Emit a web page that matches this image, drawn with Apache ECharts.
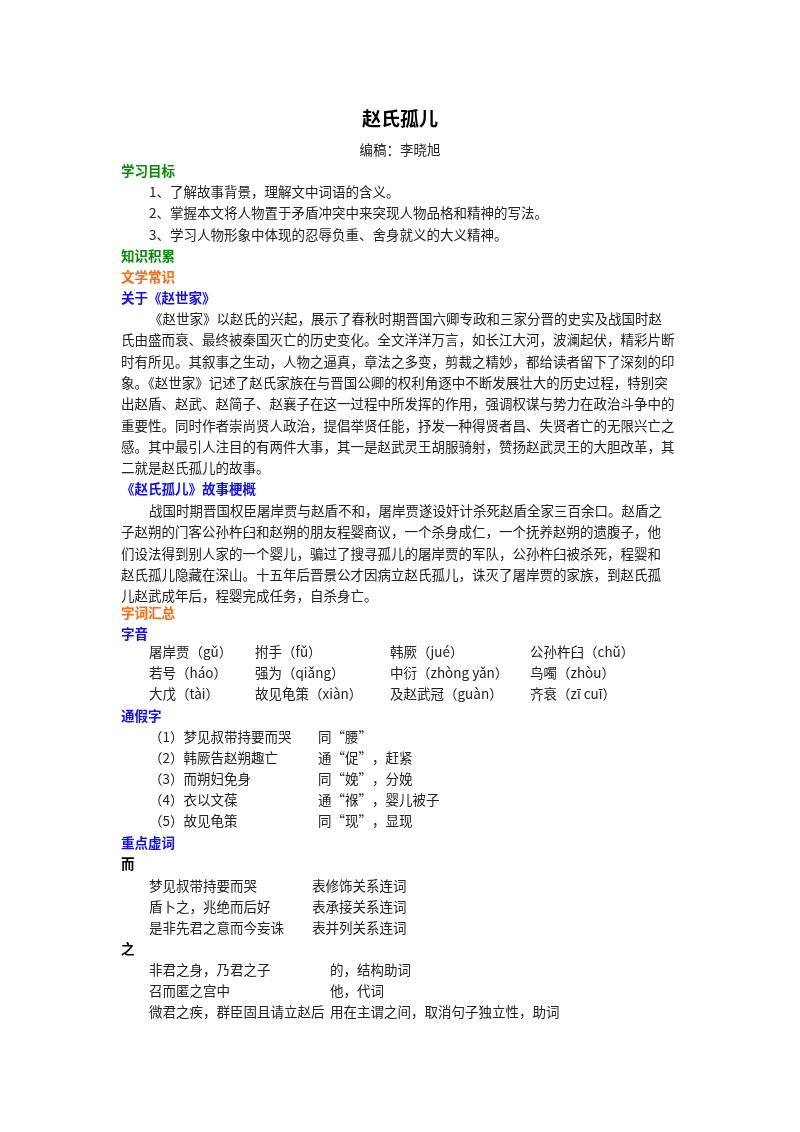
<!DOCTYPE html>
<html>
<head>
<meta charset="utf-8">
<script src="https://cdn.jsdelivr.net/npm/echarts@6/dist/echarts.min.js"></script>
<style>html,body{margin:0;padding:0;background:#fff}#main{width:800px;height:1132px}</style>
</head>
<body>
<div id="main"></div>
<script>
var title = '赵氏孤儿';
var author = '编稿：李晓旭';
var goals = ['1、了解故事背景，理解文中词语的含义。', '2、掌握本文将人物置于矛盾冲突中来突现人物品格和精神的写法。', '3、学习人物形象中体现的忍辱负重、舍身就义的大义精神。'];
var para1 = [
  '《赵世家》以赵氏的兴起，展示了春秋时期晋国六卿专政和三家分晋的史实及战国时赵',
  '氏由盛而衰、最终被秦国灭亡的历史变化。全文洋洋万言，如长江大河，波澜起伏，精彩片断',
  '时有所见。其叙事之生动，人物之逼真，章法之多变，剪裁之精妙，都给读者留下了深刻的印',
  '象。《赵世家》记述了赵氏家族在与晋国公卿的权利角逐中不断发展壮大的历史过程，特别突',
  '出赵盾、赵武、赵简子、赵襄子在这一过程中所发挥的作用，强调权谋与势力在政治斗争中的',
  '重要性。同时作者崇尚贤人政治，提倡举贤任能，抒发一种得贤者昌、失贤者亡的无限兴亡之',
  '感。其中最引人注目的有两件大事，其一是赵武灵王胡服骑射，赞扬赵武灵王的大胆改革，其',
  '二就是赵氏孤儿的故事。'
];
var para2 = [
  '战国时期晋国权臣屠岸贾与赵盾不和，屠岸贾遂设奸计杀死赵盾全家三百余口。赵盾之',
  '子赵朔的门客公孙杵臼和赵朔的朋友程婴商议，一个杀身成仁，一个抚养赵朔的遗腹子，他',
  '们设法得到别人家的一个婴儿，骗过了搜寻孤儿的屠岸贾的军队，公孙杵臼被杀死，程婴和',
  '赵氏孤儿隐藏在深山。十五年后晋景公才因病立赵氏孤儿，诛灭了屠岸贾的家族，到赵氏孤',
  '儿赵武成年后，程婴完成任务，自杀身亡。'
];
var sounds = [
  ['屠岸贾（gǔ）', '拊手（fǔ）', '韩厥（jué）', '公孙杵臼（chǔ）'],
  ['若号（háo）', '强为（qiǎng）', '中衍（zhòng yǎn）', '鸟噣（zhòu）'],
  ['大戊（tài）', '故见龟策（xiàn）', '及赵武冠（guàn）', '齐衰（zī cuī）']
];
var jiaJie = [
  ['（1）梦见叔带持要而哭', '同“腰”'],
  ['（2）韩厥告赵朔趣亡', '通“促”，赶紧'],
  ['（3）而朔妇免身', '同“娩”，分娩'],
  ['（4）衣以文葆', '通“褓”，婴儿被子'],
  ['（5）故见龟策', '同“现”，显现']
];
var er = [
  ['梦见叔带持要而哭', '表修饰关系连词'],
  ['盾卜之，兆绝而后好', '表承接关系连词'],
  ['是非先君之意而今妄诛', '表并列关系连词']
];
var zhi = [
  ['非君之身，乃君之子', '的，结构助词'],
  ['召而匿之宫中', '他，代词'],
  ['微君之疾，群臣固且请立赵后', '用在主谓之间，取消句子独立性，助词']
];

var FONT = '"Noto Sans CJK SC", sans-serif';
var els = [];
function t(x, y, s, opt) {
  opt = opt || {};
  els.push({
    type: 'text', x: x, y: y,
    style: {
      text: s, fill: opt.color || '#222', fontSize: opt.size || 13.5,
      fontWeight: opt.bold ? 'bold' : 'normal', fontFamily: FONT,
      align: opt.align || 'left', verticalAlign: 'middle'
    }
  });
}
var GREEN = '#0a8a0a', ORANGE = '#ff6a10', BLUE = '#1010ff';
t(400, 119, title, {size: 19, bold: true, align: 'center', color: '#000'});
t(400, 150, author, {align: 'center'});
t(121, 171, '学习目标', {bold: true, color: GREEN});
goals.forEach(function (g, i) { t(149, 192 + i * 21.3, g); });
t(121, 256, '知识积累', {bold: true, color: GREEN});
t(121, 277, '文学常识', {bold: true, color: ORANGE});
t(121, 298, '关于《赵世家》', {bold: true, color: BLUE});
para1.forEach(function (l, i) { t(i === 0 ? 149 : 121, 319 + i * 21.3, l); });
t(121, 489, '《赵氏孤儿》故事梗概', {bold: true, color: BLUE});
para2.forEach(function (l, i) { t(i === 0 ? 149 : 121, 511 + i * 21.3, l); });
t(121, 613, '字词汇总', {bold: true, color: ORANGE});
t(121, 634, '字音', {bold: true, color: BLUE});
var sx = [149, 255, 390, 530];
sounds.forEach(function (row, i) {
  row.forEach(function (c, j) { t(sx[j], 652 + i * 21, c); });
});
t(121, 716, '通假字', {bold: true, color: BLUE});
jiaJie.forEach(function (r, i) {
  t(149, 737 + i * 21, r[0]);
  t(318, 737 + i * 21, r[1]);
});
t(121, 843, '重点虚词', {bold: true, color: BLUE});
t(121, 864, '而', {bold: true, color: '#000'});
er.forEach(function (r, i) {
  t(149, 886 + i * 21, r[0]);
  t(312, 886 + i * 21, r[1]);
});
t(121, 949, '之', {bold: true, color: '#000'});
zhi.forEach(function (r, i) {
  t(149, 970 + i * 21, r[0]);
  t(330, 970 + i * 21, r[1]);
});

var chart = echarts.init(document.getElementById('main'));
chart.setOption({backgroundColor: '#fff', graphic: {elements: els}});
</script>
</body>
</html>
